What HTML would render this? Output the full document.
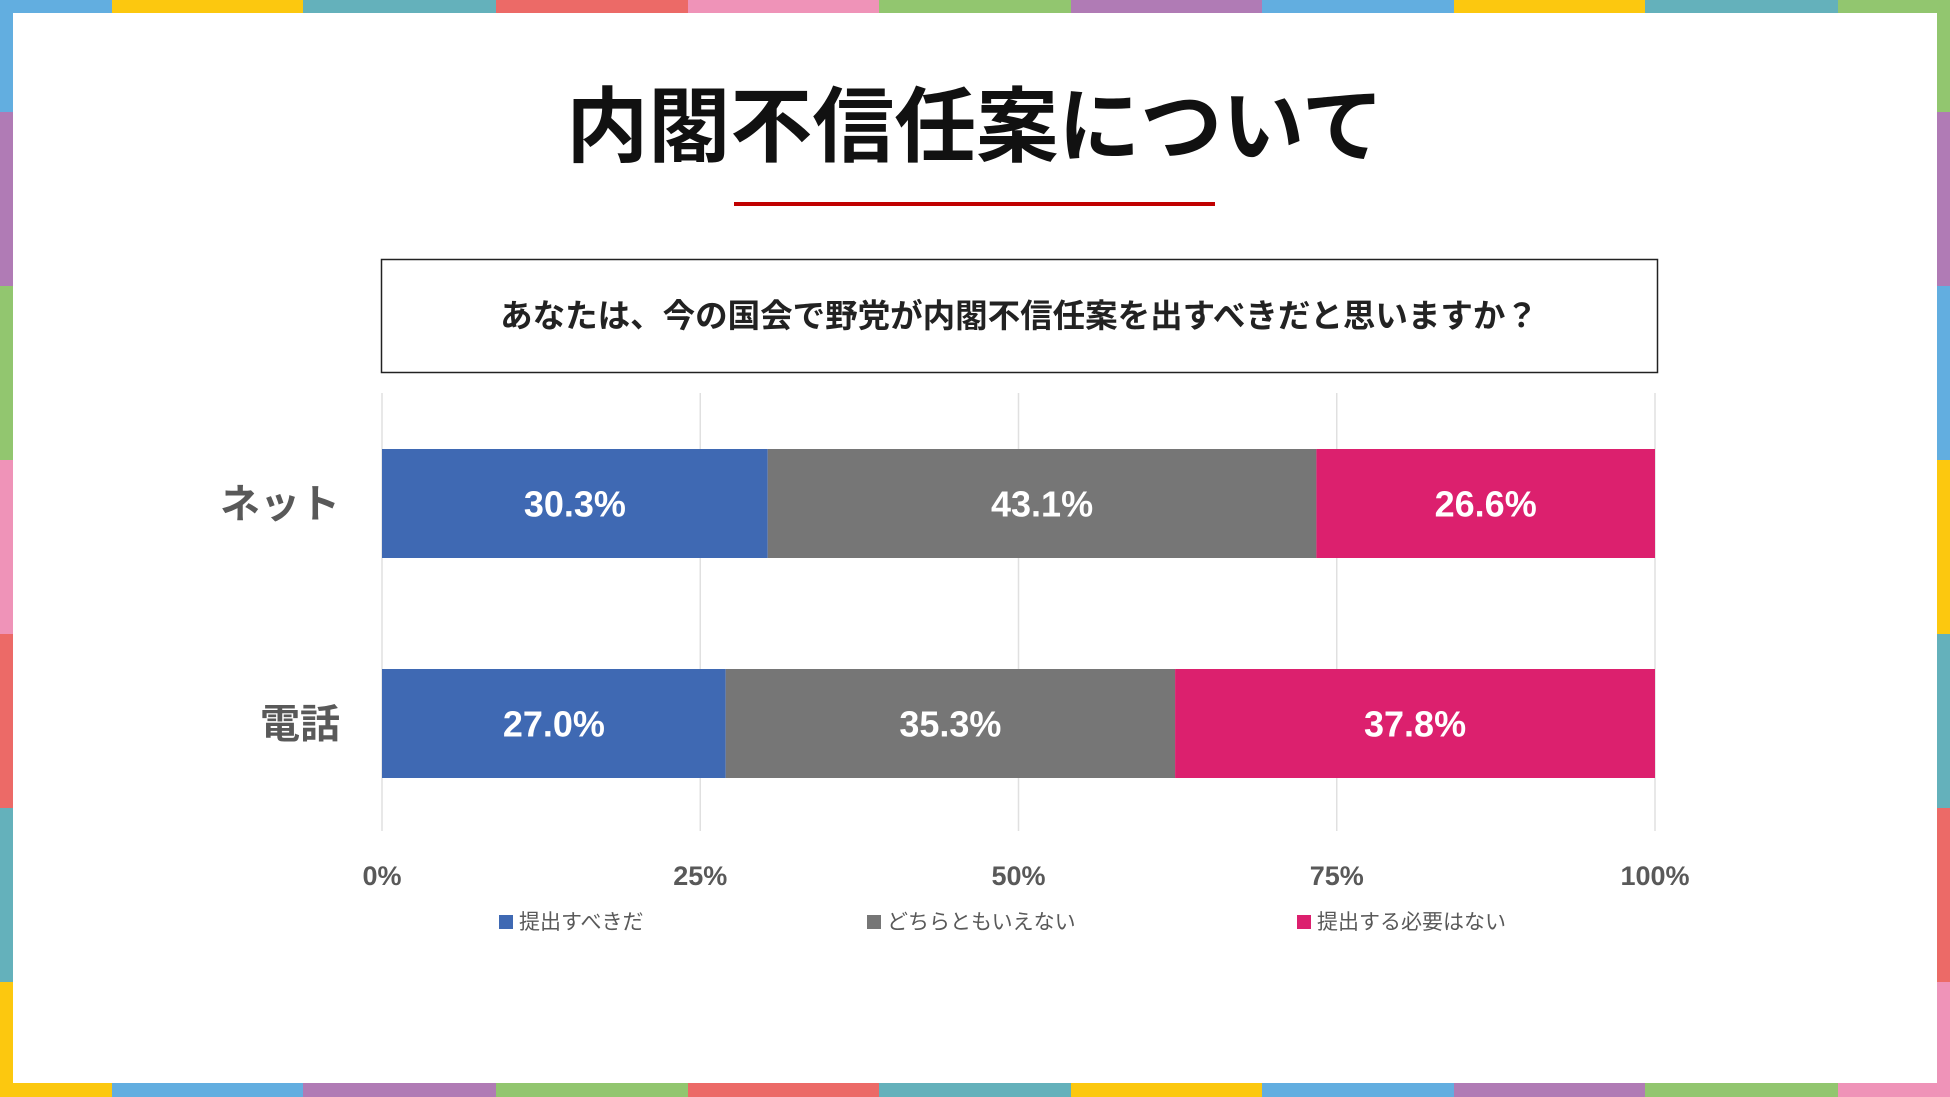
<!DOCTYPE html>
<html><head><meta charset="utf-8">
<style>
body{margin:0;width:1950px;height:1097px;overflow:hidden;background:#fff;font-family:"Liberation Sans","Noto Sans CJK JP",sans-serif;}
#wrap{position:relative;width:1950px;height:1097px;}
.seg{position:absolute;}
</style></head>
<body>
<div id="wrap">
<div id="frame"></div>
<svg id="chart" width="1950" height="1097" style="position:absolute;left:0;top:0"></svg>
</div>
<script>
const categories=["ネット","電話"];
const seriesNames=["提出すべきだ","どちらともいえない","提出する必要はない"];
const seriesNet=[30.3,43.1,26.6];
const seriesPhone=[27.0,35.3,37.8];
const tickValues=[0,25,50,75,100];
const tickLabels=["0%","25%","50%","75%","100%"];

const colors=["#3f69b3","#767676","#dc206e"];
const frame=document.getElementById('frame');
function seg(x,y,w,h,c){const d=document.createElement('div');d.className='seg';


d.style.cssText=`left:${x}px;top:${y}px;width:${w}px;height:${h}px;background:${c}`;frame.appendChild(d);}
const B="#62aee0",Y="#fcc80f",T="#64b1bb",R="#ec6a67",P="#ef93b8",G="#92c66f",U="#b07bb5";
const hx=[0,112,303,496,688,879,1071,1262,1454,1645,1838,1950];
const topC=[B,Y,T,R,P,G,U,B,Y,T,G];
const botC=[Y,B,U,G,R,T,Y,B,U,G,P];
for(let i=0;i<11;i++){seg(hx[i],0,hx[i+1]-hx[i],13,topC[i]);seg(hx[i],1083,hx[i+1]-hx[i],14,botC[i]);}
const vy=[0,112,286,460,634,808,982,1097];
const leftC=[B,U,G,P,R,T,Y];
const rightC=[G,U,B,Y,T,R,P];
for(let i=0;i<7;i++){seg(0,vy[i],13,vy[i+1]-vy[i],leftC[i]);seg(1937,vy[i],13,vy[i+1]-vy[i],rightC[i]);}

const svg=document.getElementById('chart');
const NS="http://www.w3.org/2000/svg";
function el(tag,attrs,name,text){const e=document.createElementNS(NS,tag);for(const k in attrs)e.setAttribute(k,attrs[k]);


if(text!==undefined)e.textContent=text;svg.appendChild(e);return e;}
const FF='"Liberation Sans","Noto Sans CJK JP",sans-serif';
el('text',{x:975,y:155,'text-anchor':'middle','font-size':82,'font-weight':'bold','font-family':FF,fill:'#111'},'title','内閣不信任案について');
el('rect',{x:734,y:202,width:481,height:4,fill:'#c00000'},'title-underline');
el('rect',{x:381.5,y:259.5,width:1276,height:113,fill:'#fff',stroke:'#222','stroke-width':1.5},'question-box');
el('text',{x:1019,y:327,'text-anchor':'middle','font-size':32.5,'font-weight':'bold','font-family':FF,fill:'#222'},'question-text','あなたは、今の国会で野党が内閣不信任案を出すべきだと思いますか？');
const x0=382,x1=1655;
const xs=v=>x0+(x1-x0)*v/100;
tickValues.forEach((v,i)=>{
 el('line',{x1:xs(v),x2:xs(v),y1:393,y2:831,stroke:'#e0e0e0','stroke-width':1.5},'gridline');
 el('text',{x:xs(v),y:885,'text-anchor':'middle','font-size':27,'font-weight':'bold','font-family':FF,fill:'#595959'},'x-tick-label',tickLabels[i]);
});
const rows=[seriesNet,seriesPhone];
const rowY=[449,669],bh=109;
rows.forEach((vals,r)=>{
 el('text',{x:340,y:rowY[r]+bh/2+14,'text-anchor':'end','font-size':40,'font-weight':'bold','font-family':FF,fill:'#595959'},'category-label',categories[r]);
 let acc=0;
 vals.forEach((v,s)=>{
  const xa=xs(acc),xb=xs(Math.min(acc+v,100));
  el('rect',{x:xa,y:rowY[r],width:xb-xa,height:bh,fill:colors[s]},'bar-segment');
  el('text',{x:(xa+xb)/2,y:rowY[r]+bh/2+13,'text-anchor':'middle','font-size':36,'font-weight':'bold','font-family':FF,fill:'#fff'},'value-label',v.toFixed(1)+'%');
  acc+=v;
 });
});
const lx=[499,867,1297];
seriesNames.forEach((n,i)=>{
 el('rect',{x:lx[i],y:915,width:14,height:14,fill:colors[i]},'legend-swatch');
 el('text',{x:lx[i]+20,y:929,'font-size':21,'font-family':FF,fill:'#595959'},'legend-entry',n);
});
</script>
</body></html>
